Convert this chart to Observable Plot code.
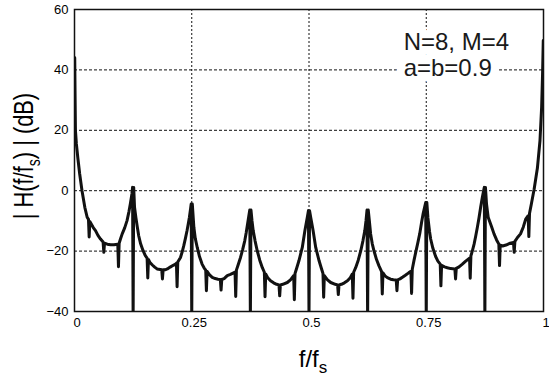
<!DOCTYPE html>
<html>
<head>
<meta charset="utf-8">
<script src="https://cdn.jsdelivr.net/npm/d3@7"></script>
<script src="https://cdn.jsdelivr.net/npm/@observablehq/plot@0.6"></script>
<style>
  html, body { margin: 0; padding: 0; background: white; }
</style>
</head>
<body>
<div id="chart"></div>
<script>
// normalized frequency f/fs
const freq = [
  0.0005, 0.0012, 0.002, 0.004, 0.007, 0.011, 0.016, 0.022, 0.027, 0.0298, 0.03125, 0.0327,
  0.040, 0.0448, 0.050, 0.0555, 0.061, 0.0625, 0.064, 0.070, 0.077, 0.084, 0.0923, 0.09375, 0.0952,
  0.098, 0.1017, 0.107, 0.112, 0.116, 0.119, 0.1225, 0.1238, 0.125, 0.1262,
  0.128, 0.131, 0.134, 0.137, 0.141, 0.146, 0.151, 0.1548, 0.15625, 0.1577,
  0.161, 0.166, 0.171, 0.176, 0.186, 0.1875, 0.189, 0.193, 0.198, 0.204, 0.2105, 0.2155,
  0.2173, 0.21875, 0.2202, 0.226, 0.2295, 0.233, 0.2365, 0.240, 0.2425, 0.245, 0.2475, 0.2488, 0.25, 0.2512,
  0.2545, 0.2575, 0.2617, 0.2665, 0.272, 0.2765, 0.2798, 0.28125, 0.2827, 0.2875, 0.2937, 0.300, 0.306,
  0.311, 0.3125, 0.314, 0.319, 0.3257, 0.3325, 0.338, 0.3423, 0.34375, 0.3452, 0.349, 0.354, 0.3585,
  0.363, 0.366, 0.369, 0.3715, 0.3737, 0.375, 0.3763,
  0.3785, 0.381, 0.385, 0.3895, 0.395, 0.4005, 0.4048, 0.40625, 0.4077, 0.412, 0.418, 0.4245, 0.431,
  0.436, 0.4375, 0.439, 0.444, 0.4537, 0.4605, 0.4673, 0.46875, 0.4702, 0.474, 0.4785, 0.4857, 0.4913,
  0.4964, 0.4988, 0.5, 0.5012,
  0.5036, 0.5087, 0.5143, 0.5215, 0.526, 0.5298, 0.53125, 0.5327, 0.5395, 0.5463, 0.556, 0.561, 0.5625,
  0.564, 0.569, 0.5755, 0.582, 0.588, 0.5923, 0.59375, 0.5952, 0.5995, 0.605, 0.6105, 0.615, 0.619,
  0.6215, 0.6237, 0.625, 0.6263,
  0.6287, 0.6314, 0.6348, 0.6385, 0.644, 0.649, 0.6548, 0.65625, 0.6577, 0.662, 0.667, 0.674, 0.680,
  0.686, 0.6875, 0.689, 0.694, 0.700, 0.7055, 0.7125, 0.7173, 0.71875, 0.7202, 0.724, 0.7274, 0.732,
  0.736, 0.740, 0.7435, 0.7488, 0.75, 0.7512,
  0.7536, 0.757, 0.7594, 0.764, 0.770, 0.7748, 0.7798, 0.78125, 0.7827, 0.789, 0.795, 0.802, 0.811,
  0.8125, 0.814, 0.820, 0.827, 0.8335, 0.8423, 0.84375, 0.8452, 0.849, 0.852, 0.8555, 0.859, 0.8625,
  0.866, 0.8698, 0.8738, 0.875, 0.8762,
  0.8785, 0.882, 0.8895, 0.8945, 0.900, 0.9048, 0.90625, 0.9077, 0.913, 0.920, 0.927, 0.936, 0.9375,
  0.939, 0.9445, 0.951, 0.957, 0.962, 0.9673, 0.96875, 0.9702, 0.974, 0.98, 0.987, 0.9925, 0.996,
  0.998, 0.9995
];

// |H(f/fs)| in dB
const magDb = [
  44, 32, 20, 15.5, 11, 5.6, 0, -5.5, -8.8, -9.5, -15.3, -10.2,
  -12.2, -13.2, -14.8, -16, -17, -20.4, -17.4, -17.7, -17.9, -17.9, -17.7, -25.2, -17.4,
  -16, -14.3, -12.3, -9.9, -7, -4.4, -1, 1.1, -42, 1.1,
  -5.5, -9, -12.1, -15, -17.6, -19.8, -21.5, -22.3, -28.9, -22.8,
  -23.8, -24.6, -25.3, -25.9, -26.2, -29.2, -26.2, -26.2, -25.9, -25.3, -24.7, -24.3,
  -24, -31.8, -23.6, -22.1, -20.3, -18.2, -15.8, -13.2, -11, -8.8, -6, -4.4, -42, -4.4,
  -12.1, -15.8, -18.8, -21.8, -24.3, -25.6, -26.3, -33.1, -26.7, -27.8, -28.7, -29.1, -29.3,
  -29.4, -32.9, -29.4, -29.1, -28.1, -27.7, -27.3, -27, -35, -26.3, -24.5, -22.1, -19.5,
  -16.6, -14, -11, -8.5, -6.4, -42, -6.4,
  -10, -13.2, -16.6, -19.8, -23, -25.5, -27, -35.1, -27.6, -28.8, -29.8, -30.5, -31,
  -31.2, -34.8, -31.2, -31, -30.4, -29.5, -28.1, -36.1, -27.4, -25.5, -23.2, -18.8, -13.2,
  -8.8, -6.6, -42, -6.6,
  -8.8, -13.2, -18.8, -23.2, -25.5, -27.4, -35.3, -28.1, -29.5, -30.4, -31, -31.2, -34.4,
  -31.2, -31, -30.5, -29.8, -28.8, -27.6, -35.6, -27, -25.5, -23, -19.8, -16.6, -13.2,
  -10, -6.4, -42, -6.4,
  -10, -14.3, -17.5, -19.9, -22.8, -24.8, -26.8, -34.2, -27.2, -28.2, -28.8, -29.3, -29.5,
  -29.6, -33.1, -29.5, -29.2, -28.6, -28, -27.2, -26.7, -34, -26, -23, -20.5, -17.3,
  -14.3, -10.5, -7.5, -3.9, -42, -3.9,
  -9, -13.5, -16, -19, -21.8, -23.3, -24.3, -31.5, -24.7, -25.2, -25.5, -25.8, -25.9,
  -29.2, -25.7, -25.2, -24.3, -23.4, -22.3, -29, -21.6, -19.5, -17.7, -15, -12.1, -9,
  -5.5, -2, 1.1, -42, 1.1,
  -4.4, -8.8, -12, -14.3, -16.3, -17.7, -24.8, -18, -18.3, -18, -17.5, -17.1, -20.4,
  -16.8, -15.5, -14.3, -12, -9.4, -8.3, -15.2, -7.5, -4.5, 0.5, 7.5, 16.6, 27.6,
  38.6, 49.7
];

const xTicks = [0, 0.25, 0.5, 0.75, 1];
const xTickLabels = ["0", "0.25", "0.5", "0.75", "1"];
const yTicks = [-40, -20, 0, 20, 40, 60];
const xGrid = [0.25, 0.5, 0.75];
const yGrid = [-20, 0, 20, 40];
const noteLines = ["N=8, M=4", "a=b=0.9"];
const noteY = [49.3, 40.4];

const points = freq.map((f, i) => ({f, db: magDb[i]}));
const notes = noteLines.map((t, i) => ({t, y: noteY[i]}));

const chart = Plot.plot({
  width: 549,
  height: 384,
  marginLeft: 74,
  marginRight: 6,
  marginTop: 9,
  marginBottom: 73,
  style: {fontFamily: "'Liberation Sans', Arial, sans-serif", fontSize: "13px", background: "white", color: "#000"},
  x: {domain: [0, 1], ticks: xTicks, tickSize: 0, tickPadding: 6,
      tickFormat: d => xTickLabels[xTicks.indexOf(d)], label: null},
  y: {domain: [-40, 60], ticks: yTicks, tickSize: 0, tickPadding: 6, label: null},
  marks: [
    Plot.ruleX(xGrid, {stroke: "#111", strokeWidth: 1, strokeDasharray: "2,2"}),
    Plot.ruleY(yGrid, {stroke: "#111", strokeWidth: 1, strokeDasharray: "3,2"}),
    Plot.text(notes, {x: 0.7018, y: "y", text: "t", textAnchor: "start", fontSize: 24,
      fill: "#1a1a1a", stroke: "white", strokeWidth: 16}),
    Plot.line(points, {x: "f", y: "db", stroke: "#111", strokeWidth: 3, clip: true}),
    Plot.frame({stroke: "#111", strokeWidth: 1.5})
  ]
});

document.getElementById("chart").appendChild(chart);

const svg = d3.select(chart);
// x tick label nudge
svg.selectAll("g[aria-label='x-axis tick label'] text, g[aria-label='x-axis'] text").attr("dx", 2.5);

// y-axis title with subscript (condensed face like the reference)
const yl = svg.append("text")
  .attr("transform", "translate(33,156) rotate(-90) scale(0.78,1)")
  .attr("text-anchor", "middle")
  .attr("font-size", 28)
  .attr("fill", "#000");
yl.append("tspan").text("| H(f/f");
yl.append("tspan").attr("font-size", 18).attr("dy", 7).text("s");
yl.append("tspan").attr("dy", -7).text(") | (dB)");

// x-axis title with subscript
const xl = svg.append("text")
  .attr("x", 313)
  .attr("y", 367)
  .attr("text-anchor", "middle")
  .attr("font-size", 24)
  .attr("fill", "#000");
xl.append("tspan").text("f/f");
xl.append("tspan").attr("font-size", 17).attr("dy", 6).text("s");
</script>
</body>
</html>
